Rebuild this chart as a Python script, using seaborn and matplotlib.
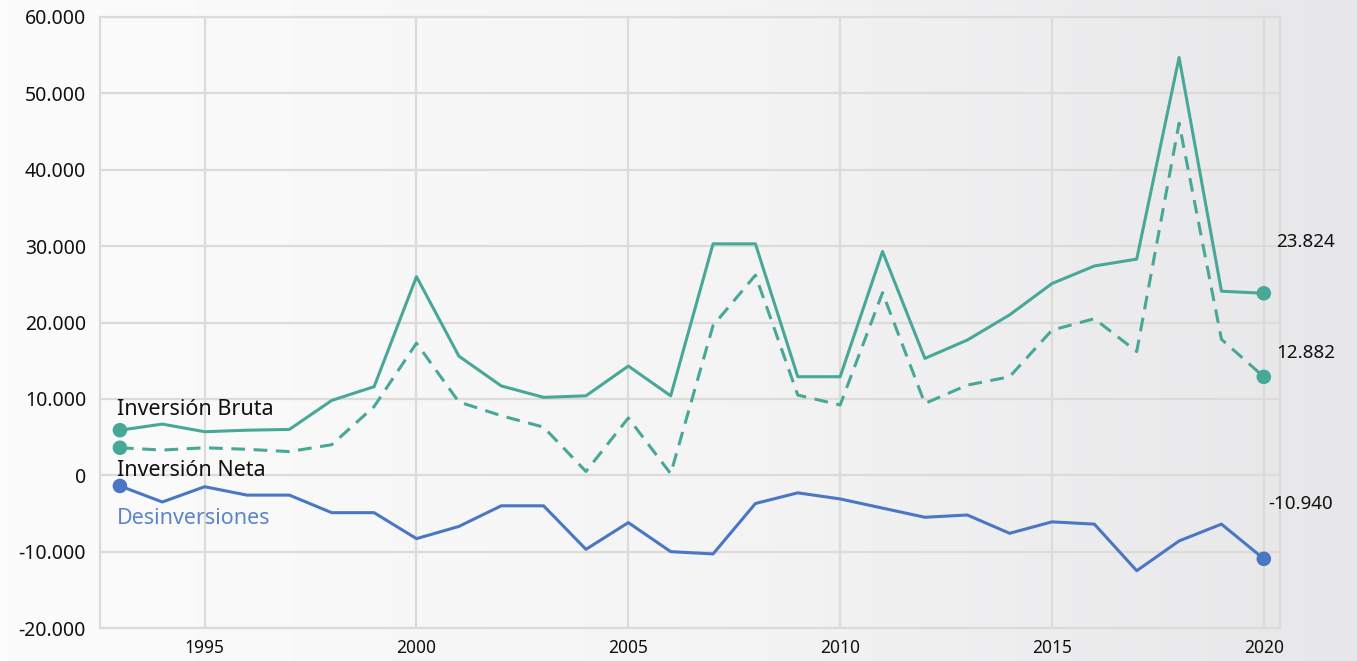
import numpy as np
import pandas as pd
import matplotlib
matplotlib.use("Agg")
import matplotlib.pyplot as plt
import seaborn as sns
from matplotlib.ticker import FuncFormatter

# Data (millones de euros)
years = list(range(1993, 2021))
bruta = [5900, 6700, 5700, 5900, 6000, 9800, 11600, 26000, 15600, 11700,
         10200, 10400, 14300, 10400, 30300, 30300, 12900, 12900, 29300, 15300,
         17700, 21000, 25100, 27400, 28300, 54700, 24100, 23824]
neta = [3600, 3300, 3600, 3400, 3100, 4000, 9000, 17300, 9600, 7800,
        6300, 500, 7500, 200, 19600, 26200, 10500, 9200, 23900, 9400,
        11800, 12900, 19000, 20500, 16200, 46100, 17800, 12882]
desinv = [-1400, -3500, -1500, -2600, -2600, -4900, -4900, -8300, -6700, -4000,
          -4000, -9700, -6200, -10000, -10300, -3700, -2300, -3100, -4300, -5500,
          -5200, -7600, -6100, -6400, -12500, -8600, -6400, -10940]

df = pd.DataFrame({"year": years, "bruta": bruta, "neta": neta, "desinv": desinv})

teal = "#48a898"
blue = "#4a76c4"

sns.set_style("white")
plt.rcParams["font.family"] = ["Noto Sans", "DejaVu Sans"]

fig = plt.figure(figsize=(13.57, 6.61), dpi=100)

# soft background gradient
bg = fig.add_axes([0, 0, 1, 1], zorder=-10)
grad = np.linspace(0, 1, 256).reshape(1, -1)
bg.imshow(grad, aspect="auto", cmap=matplotlib.colors.LinearSegmentedColormap.from_list(
    "bgc", ["#fcfcfd", "#f5f5f6", "#e7e7e9"]), extent=[0, 1, 0, 1])
bg.axis("off")

ax = fig.add_axes([0.0737, 0.0499, 0.8695, 0.9244])
ax.set_facecolor("none")

sns.lineplot(data=df, x="year", y="bruta", color=teal, lw=2.2, ax=ax)
sns.lineplot(data=df, x="year", y="neta", color=teal, lw=2.2, ax=ax,
             linestyle=(0, (4.5, 2.8)))
sns.lineplot(data=df, x="year", y="desinv", color=blue, lw=2.2, ax=ax)

ends = df.iloc[[0, -1]]
for col, c in [("bruta", teal), ("neta", teal), ("desinv", blue)]:
    sns.scatterplot(data=ends, x="year", y=col, color=c, s=110, edgecolor="none",
                    ax=ax, zorder=5)

ax.set_xlim(1992.53, 2020.38)
ax.set_ylim(-20000, 60000)
ax.set_yticks(range(-20000, 60001, 10000))
ax.set_xticks(range(1995, 2021, 5))
ax.yaxis.set_major_formatter(FuncFormatter(lambda v, p: f"{v:,.0f}".replace(",", ".")))
ax.set_xlabel("")
ax.set_ylabel("")
ax.grid(True, color="#dcdbd8", lw=1.6)
ax.set_axisbelow(True)
for s in ax.spines.values():
    s.set_color("#dcdbd8")
    s.set_linewidth(1.6)
ax.tick_params(axis="y", labelsize=14, length=0, pad=10, labelcolor="#111111")
ax.tick_params(axis="x", labelsize=12.5, length=0, pad=8, labelcolor="#111111")

# series labels
ax.text(1992.93, 7200, "Inversión Bruta", fontsize=15.5, color="#111111", va="bottom", ha="left")
ax.text(1992.93, -700, "Inversión Neta", fontsize=15.5, color="#111111", va="bottom", ha="left")
ax.text(1992.93, -5700, "Desinversiones", fontsize=15.5, color="#5b84cc", va="center", ha="left")

# end values
ax.text(2020.3, bruta[-1] + 6700, "23.824", fontsize=13.5, color="#111111", ha="left", va="center")
ax.text(2020.3, neta[-1] + 3100, "12.882", fontsize=13.5, color="#111111", ha="left", va="center")
ax.text(2020.1, desinv[-1] + 7200, "-10.940", fontsize=13.5, color="#111111", ha="left", va="center")

fig.savefig("out.png", dpi=100)
